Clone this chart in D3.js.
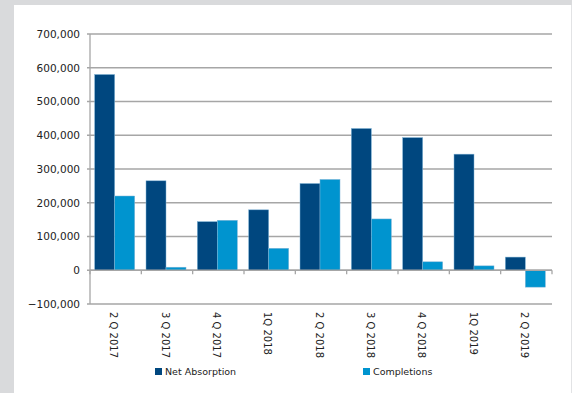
<!DOCTYPE html>
<html><head><meta charset="utf-8">
<script src="https://cdn.jsdelivr.net/npm/d3@7"></script>
<style>
html,body{margin:0;padding:0;background:#d9dadc;}
svg{display:block;}
</style></head>
<body>
<svg id="chart" width="572" height="393"></svg>
<script>
const categories = ["2 Q 2017","3 Q 2017","4 Q 2017","1Q 2018","2 Q 2018","3 Q 2018","4 Q 2018","1Q 2019","2 Q 2019"];
const netAbsorption = [580000, 265000, 144000, 179000, 257000, 420000, 393000, 344000, 39000];
const completions = [220000, 9000, 148000, 65000, 269000, 152000, 25000, 13000, -50000];
const seriesNames = ["Net Absorption", "Completions"];
const seriesColors = ["#00477f", "#0094cf"];
const yTicks = [-100000, 0, 100000, 200000, 300000, 400000, 500000, 600000, 700000];

(function(){
const svg = d3.select("#chart");
const font = "'DejaVu Sans', sans-serif";

// white panel
svg.append("rect").attr("x",14).attr("y",5).attr("width",557).attr("height",388).attr("fill","#ffffff");
svg.append("line").attr("x1",571.5).attr("x2",571.5).attr("y1",5).attr("y2",393).attr("stroke","#e2e3e5").attr("stroke-width",1);

const pLeft = 90, pRight = 552, pTop = 34, pBottom = 304;
const x = d3.scaleBand().domain(categories).range([pLeft, pRight]).paddingInner(0).paddingOuter(0);
const y = d3.scaleLinear().domain([-100000, 700000]).range([pBottom, pTop]);

// gridlines
svg.append("g").selectAll("line").data(yTicks).join("line")
  .attr("x1", pLeft-3).attr("x2", pRight)
  .attr("y1", d=>y(d)).attr("y2", d=>y(d))
  .attr("stroke", "#a6a6a6").attr("stroke-width", 1.3);

// y axis line
svg.append("line").attr("x1",pLeft).attr("x2",pLeft).attr("y1",pTop).attr("y2",pBottom)
  .attr("stroke","#a6a6a6").attr("stroke-width",1.3);

// y labels
svg.append("g").selectAll("text").data(yTicks).join("text")
  .attr("x", 80).attr("y", d=>y(d)).attr("dy","0.36em")
  .attr("text-anchor","end").attr("font-family",font).attr("font-size","10.5px").attr("fill","#222")
  .text(d=>d3.format(",")(d));

// bars
const bw = 20;
const groups = svg.append("g").selectAll("g").data(categories).join("g");
groups.each(function(c,i){
  const g = d3.select(this);
  const cx = x(c) + x.bandwidth()/2 - 1;
  [netAbsorption[i], completions[i]].forEach((v,j)=>{
    g.append("rect")
      .attr("x", cx - bw + j*bw)
      .attr("y", y(Math.max(0,v)))
      .attr("width", bw)
      .attr("height", Math.abs(y(v)-y(0)))
      .attr("fill", seriesColors[j])
      .attr("stroke", "#7fb3d6").attr("stroke-width", 0.5);
  });
});

// zero axis with category ticks
svg.append("line").attr("x1",pLeft).attr("x2",pRight).attr("y1",y(0)).attr("y2",y(0))
  .attr("stroke","#a6a6a6").attr("stroke-width",1.3);
const boundaries = categories.map((c)=>x(c)).concat([pRight]);
svg.append("g").selectAll("line").data(boundaries).join("line")
  .attr("x1",d=>d).attr("x2",d=>d).attr("y1",y(0)).attr("y2",y(0)+4)
  .attr("stroke","#a6a6a6").attr("stroke-width",1.3);

// category labels rotated
svg.append("g").selectAll("text").data(categories).join("text")
  .attr("transform", c=>`translate(${x(c)+x.bandwidth()/2 - 2},312) rotate(90)`)
  .attr("dy","0.35em")
  .attr("font-family",font).attr("font-size","10px").attr("fill","#222")
  .text(c=>c);

// legend
const legendX = [155, 363];
seriesNames.forEach((n,j)=>{
  svg.append("rect").attr("x",legendX[j]).attr("y",368).attr("width",7).attr("height",7).attr("fill",seriesColors[j]);
  svg.append("text").attr("x",legendX[j]+10).attr("y",372).attr("dy","0.35em")
    .attr("font-family",font).attr("font-size","9.5px").attr("fill","#222").text(n);
});
})();
</script>
</body></html>
